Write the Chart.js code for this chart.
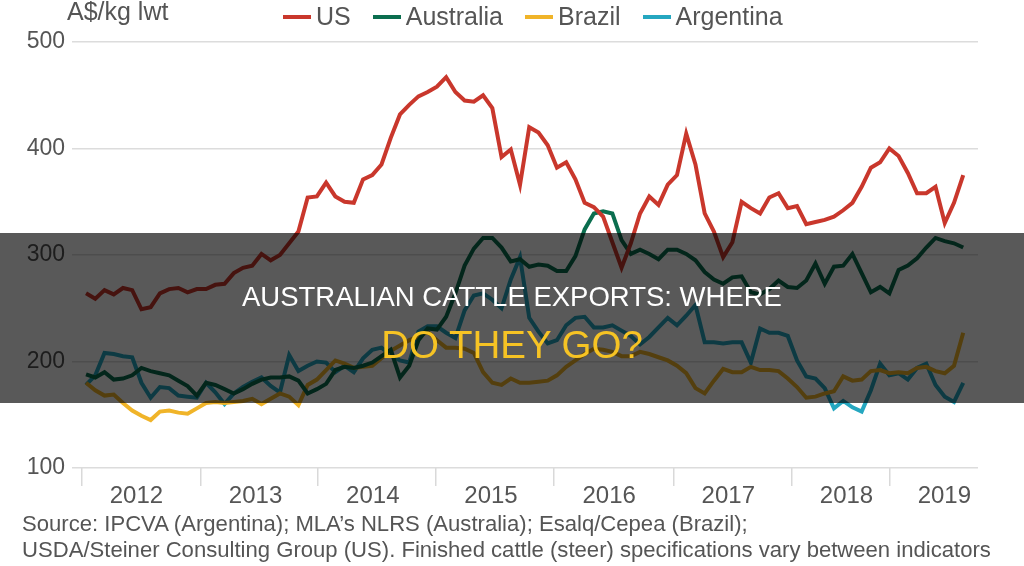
<!DOCTYPE html>
<html>
<head>
<meta charset="utf-8">
<script src="https://cdn.jsdelivr.net/npm/chart.js@4.4.1/dist/chart.umd.min.js"></script>
<style>
  html, body { margin: 0; padding: 0; background: #fff; }
  body {
    width: 1024px; height: 566px; position: relative; overflow: hidden;
    font-family: "Liberation Sans", Arial, sans-serif; color: #555;
  }
  #chart { position: absolute; left: 0; top: 0; }
  .unit { position: absolute; left: 67px; top: -1px; font-size: 25px; line-height: 25px; }
  #legend {
    position: absolute; left: 283px; top: 4px; display: flex; align-items: center;
    font-size: 25px; line-height: 25px; white-space: nowrap;
  }
  #legend .item { display: flex; align-items: center; margin-right: 22px; }
  #legend .swatch { width: 28px; height: 4px; margin-right: 5px; }
  .source {
    position: absolute; left: 22px; top: 511px; font-size: 22.1px; line-height: 26px;
    white-space: nowrap;
  }
  .band {
    position: absolute; left: 0; top: 233px; width: 1024px; height: 170px;
    background: rgba(0, 0, 0, 0.65); text-align: center;
  }
  .band .l1 { position: absolute; left: 0; right: 0; top: 50px; font-size: 27.5px; line-height: 27px; color: #fff; }
  .band .l2 { position: absolute; left: 0; right: 0; top: 93px; font-size: 38.5px; line-height: 38px; color: #f6c324; }
</style>
</head>
<body>
<canvas id="chart" width="1024" height="566"></canvas>
<div class="unit">A$/kg lwt</div>
<div id="legend"></div>
<div class="source">Source: IPCVA (Argentina); MLA’s NLRS (Australia); Esalq/Cepea (Brazil);<br>USDA/Steiner Consulting Group (US). Finished cattle (steer) specifications vary between indicators</div>
<div class="band">
  <div class="l1">AUSTRALIAN CATTLE EXPORTS: WHERE</div>
  <div class="l2">DO THEY GO?</div>
</div>
<script>
// Finished cattle prices, A$/kg lwt, one value per period from early 2012 to mid 2019
const us = [264, 259, 267, 263, 269, 267, 249, 251, 264, 268,
  269, 265, 268, 268, 272, 273, 283, 288, 290, 301,
  295, 300, 311, 322, 354, 355, 368, 355, 350, 349,
  371, 375, 385, 410, 432, 441, 449, 453, 458, 467,
  453, 445, 444, 450, 438, 392, 399, 366, 420, 415,
  403, 382, 387, 371, 349, 345, 336, 312, 288, 311,
  339, 355, 347, 366, 375, 414, 385, 339, 322, 298,
  312, 350, 344, 339, 354, 358, 344, 346, 329, 331,
  333, 336, 342, 349, 364, 382, 387, 400, 393, 377,
  358, 358, 364, 330, 349, 375]
const australia = [188, 185, 190, 183, 184, 187, 194, 191, 189, 187,
  182, 177, 168, 180, 178, 174, 170, 174, 179, 183,
  185, 185, 186, 182, 170, 174, 179, 192, 195, 194,
  196, 199, 205, 211, 185, 196, 220, 231, 230, 242,
  264, 290, 306, 316, 316, 307, 294, 296, 289, 291,
  290, 285, 285, 299, 324, 339, 341, 339, 314, 301,
  305, 301, 296, 305, 305, 301, 295, 284, 277, 273,
  279, 280, 265, 263, 268, 276, 270, 269, 276, 292,
  273, 289, 290, 301, 283, 265, 270, 264, 286, 290,
  297, 307, 316, 313, 311, 307]
const brazil = [180, 173, 168, 169, 161, 154, 149, 145, 153, 154,
  152, 151, 156, 161, 162, 161, 162, 163, 165, 160,
  165, 170, 167, 159, 178, 183, 192, 201, 198, 194,
  195, 196, 203, 210, 215, 220, 223, 228, 220, 213,
  213, 212, 208, 190, 180, 178, 184, 180, 180, 181,
  182, 187, 195, 201, 207, 212, 211, 209, 205, 205,
  209, 207, 204, 201, 196, 189, 175, 170, 182, 193,
  190, 190, 195, 192, 192, 191, 184, 176, 166, 167,
  170, 172, 186, 182, 183, 191, 192, 189, 190, 189,
  194, 195, 191, 189, 196, 227]
const argentina = [178, 187, 208, 207, 205, 204, 180, 166, 176, 175,
  168, 167, 166, 180, 171, 160, 170, 176, 181, 185,
  177, 171, 206, 191, 196, 200, 199, 190, 196, 190,
  203, 211, 213, 206, 201, 199, 228, 233, 233, 227,
  222, 248, 262, 264, 258, 250, 277, 298, 241, 228,
  217, 220, 234, 241, 242, 232, 232, 234, 229, 224,
  216, 223, 232, 241, 234, 243, 253, 218, 218, 217,
  218, 218, 199, 231, 227, 227, 224, 201, 186, 184,
  175, 156, 163, 157, 153, 173, 198, 187, 189, 183,
  194, 198, 178, 167, 162, 180]

const seriesNames = ['US', 'Australia', 'Brazil', 'Argentina']
const seriesColors = ['#c9372c', '#0b6e4f', '#f0b429', '#25a7c0']
const years = ['2012', '2013', '2014', '2015', '2016', '2017', '2018', '2019']
// period index where each year starts
const yearStarts = [-0.5, 12.4, 25.1, 37.9, 50.7, 63.6, 76.4, 87.0]
const yTicks = [100, 200, 300, 400, 500]

const periods = us.map((_, i) => i)
const font = '"Liberation Sans", Arial, sans-serif'

// legend
const legend = document.getElementById('legend')
seriesNames.forEach((name, i) => {
  const item = document.createElement('div')
  item.className = 'item'
  const sw = document.createElement('span')
  sw.className = 'swatch'
  sw.style.background = seriesColors[i]
  const txt = document.createElement('span')
  txt.textContent = name
  item.appendChild(sw)
  item.appendChild(txt)
  legend.appendChild(item)
})

const values = [us, australia, brazil, argentina]

new Chart(document.getElementById('chart'), {
  type: 'line',
  data: {
    labels: periods,
    datasets: seriesNames.map((name, i) => ({
      label: name,
      data: values[i],
      borderColor: seriesColors[i],
      backgroundColor: seriesColors[i],
      borderWidth: 4,
      pointRadius: 0,
      tension: 0,
      fill: false
    }))
  },
  options: {
    responsive: false,
    animation: false,
    layout: { padding: { left: 0, right: 46, top: 42, bottom: 58 } },
    plugins: {
      legend: { display: false },
      tooltip: { enabled: false }
    },
    scales: {
      x: {
        type: 'linear',
        min: -1.52,
        max: 96.6,
        afterBuildTicks: scale => { scale.ticks = yearStarts.map(v => ({ value: v })) },
        afterFit: scale => { scale.height = 40 },
        border: { display: false },
        grid: { drawOnChartArea: false, drawTicks: true, tickLength: 18, color: '#d9d9d9', lineWidth: 1.5 },
        ticks: {
          autoSkip: false,
          maxRotation: 0,
          labelOffset: 55,
          padding: -4,
          color: '#555',
          font: { size: 24, family: font },
          callback: (v, i) => years[i]
        }
      },
      y: {
        min: 100,
        max: 500,
        afterBuildTicks: scale => { scale.ticks = yTicks.map(v => ({ value: v })) },
        afterFit: scale => { scale.width = 72 },
        border: { display: false },
        grid: { drawTicks: false, color: '#dcdcdc', lineWidth: 1.5 },
        ticks: { padding: 7, color: '#555', font: { size: 23, family: font } }
      }
    }
  }
})
</script>
</body>
</html>
